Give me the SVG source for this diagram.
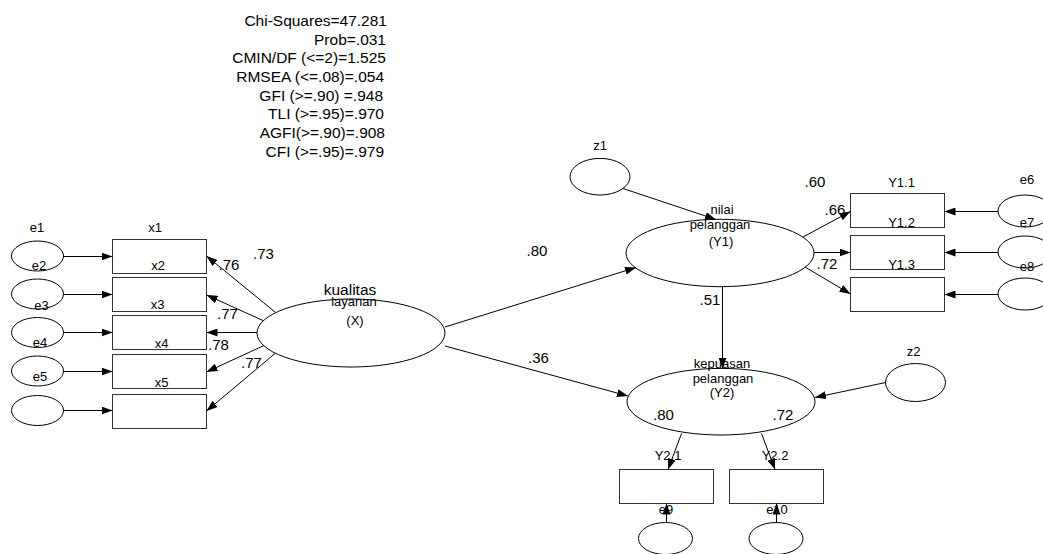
<svg xmlns="http://www.w3.org/2000/svg" width="1043" height="554" viewBox="0 0 1043 554">
<style>
  .sh { fill: none; stroke: #000; stroke-width: 1; }
  .bx { fill: none; stroke: #333; stroke-width: 1; }
  .ln { stroke: #000; stroke-width: 1; fill: none; marker-end: url(#ah); }
  text { font-family: "Liberation Sans", Arial, sans-serif; fill: #000; }
  .s { font-size: 13px; text-anchor: middle; }
  .n { font-size: 15px; text-anchor: middle; }
  .fit { font-size: 15.5px; text-anchor: end; }
  .big { font-size: 15.5px; text-anchor: middle; }
</style>
<defs>
  <marker id="ah" markerUnits="userSpaceOnUse" markerWidth="11" markerHeight="8" refX="11" refY="4" orient="auto">
    <path d="M0,0 L11,4 L0,8 z" fill="#000"/>
  </marker>
</defs>
<rect width="1043" height="554" fill="#fff"/>

<g id="fit">
  <text class="fit" x="387" y="26">Chi-Squares=47.281</text>
  <text class="fit" x="386" y="44.5">Prob=.031</text>
  <text class="fit" x="386" y="63.2">CMIN/DF (&lt;=2)=1.525</text>
  <text class="fit" x="384" y="81.9">RMSEA (&lt;=.08)=.054</text>
  <text class="fit" x="383" y="100.6">GFI (&gt;=.90) =.948</text>
  <text class="fit" x="384" y="119.3">TLI (&gt;=.95)=.970</text>
  <text class="fit" x="385" y="138">AGFI(&gt;=.90)=.908</text>
  <text class="fit" x="384" y="156.7">CFI (&gt;=.95)=.979</text>
</g>

<!-- left error terms -->
<g id="e1"><ellipse class="sh" cx="37.5" cy="256" rx="26" ry="15"/><text class="s" x="37" y="232">e1</text></g>
<g id="e2"><ellipse class="sh" cx="37.5" cy="294" rx="26" ry="15"/><text class="s" x="39" y="270">e2</text></g>
<g id="e3"><ellipse class="sh" cx="37.5" cy="332.5" rx="26" ry="15"/><text class="s" x="41.5" y="309.5">e3</text></g>
<g id="e4"><ellipse class="sh" cx="37.5" cy="371" rx="26" ry="15"/><text class="s" x="40" y="347">e4</text></g>
<g id="e5"><ellipse class="sh" cx="37.5" cy="410.5" rx="26" ry="15"/><text class="s" x="40" y="381">e5</text></g>

<!-- left indicators -->
<g id="x1"><rect class="bx" x="112.5" y="239.5" width="94" height="34"/><text class="s" x="155" y="232">x1</text></g>
<g id="x2"><rect class="bx" x="112.5" y="277.5" width="94" height="34"/><text class="s" x="158" y="270">x2</text></g>
<g id="x3"><rect class="bx" x="112.5" y="315.5" width="94" height="34"/><text class="s" x="157.5" y="309">x3</text></g>
<g id="x4"><rect class="bx" x="112.5" y="354.5" width="94" height="34"/><text class="s" x="161.5" y="348">x4</text></g>
<g id="x5"><rect class="bx" x="112.5" y="394.5" width="94" height="34"/><text class="s" x="161.5" y="387">x5</text></g>

<!-- latent X -->
<g id="kualitas">
  <ellipse class="sh" cx="351" cy="333" rx="94" ry="34"/>
  <text class="big" x="350" y="295">kualitas</text>
  <text class="s" x="354" y="306">layanan</text>
  <text class="s" x="355" y="325">(X)</text>
</g>

<!-- latent Y1 -->
<g id="nilai">
  <ellipse class="sh" cx="720" cy="253" rx="94" ry="33.7"/>
  <text class="s" x="722" y="214">nilai</text>
  <text class="s" x="720" y="229">pelanggan</text>
  <text class="s" x="721" y="246">(Y1)</text>
</g>

<!-- latent Y2 -->
<g id="kepuasan">
  <ellipse class="sh" cx="721" cy="401.7" rx="94" ry="33.3"/>
  <text class="s" x="722" y="368">kepuasan</text>
  <text class="s" x="723" y="383">pelanggan</text>
  <text class="s" x="722" y="397">(Y2)</text>
</g>

<g id="z1"><ellipse class="sh" cx="600" cy="176.7" rx="30" ry="18.3"/><text class="s" x="600" y="149.5">z1</text></g>
<g id="z2"><ellipse class="sh" cx="915.5" cy="382.5" rx="30" ry="19"/><text class="s" x="913.5" y="356">z2</text></g>

<!-- Y1 indicators -->
<g id="Y1.1"><rect class="bx" x="850.5" y="193.5" width="94" height="34"/><text class="s" x="901.5" y="187">Y1.1</text></g>
<g id="Y1.2"><rect class="bx" x="850.5" y="235.5" width="94" height="34"/><text class="s" x="901.5" y="227">Y1.2</text></g>
<g id="Y1.3"><rect class="bx" x="850.5" y="277.5" width="94" height="34"/><text class="s" x="901.5" y="268.5">Y1.3</text></g>

<g id="e6"><ellipse class="sh" cx="1025" cy="211" rx="27" ry="16"/><text class="s" x="1027" y="183.5">e6</text></g>
<g id="e7"><ellipse class="sh" cx="1025" cy="252" rx="27" ry="16"/><text class="s" x="1027" y="227">e7</text></g>
<g id="e8"><ellipse class="sh" cx="1025" cy="294" rx="27" ry="16"/><text class="s" x="1027" y="271">e8</text></g>

<!-- Y2 indicators -->
<g id="Y2.1"><rect class="bx" x="619.5" y="469.5" width="94" height="34"/><text class="s" x="668" y="459.5">Y2.1</text></g>
<g id="Y2.2"><rect class="bx" x="729.5" y="469.5" width="94" height="34"/><text class="s" x="775" y="459.5">Y2.2</text></g>

<g id="e9"><ellipse class="sh" cx="665.5" cy="538.5" rx="27" ry="16"/><text class="s" x="666" y="513.5">e9</text></g>
<g id="e10"><ellipse class="sh" cx="776" cy="538.5" rx="27" ry="16"/><text class="s" x="777" y="513.5">e10</text></g>

<g id="connectors">
  <line class="ln" x1="63.5" y1="256.5" x2="112.5" y2="256.5"/>
  <line class="ln" x1="63.5" y1="294.5" x2="112.5" y2="294.5"/>
  <line class="ln" x1="63.5" y1="332.5" x2="112.5" y2="332.5"/>
  <line class="ln" x1="63.5" y1="371.5" x2="112.5" y2="371.5"/>
  <line class="ln" x1="63.5" y1="410.5" x2="112.5" y2="410.5"/>

  <line class="ln" x1="275" y1="312" x2="206.5" y2="256"/>
  <line class="ln" x1="263" y1="320.5" x2="206.5" y2="295"/>
  <line class="ln" x1="257" y1="332.5" x2="206.5" y2="332.5"/>
  <line class="ln" x1="264" y1="345.5" x2="206.5" y2="372"/>
  <line class="ln" x1="275" y1="353.5" x2="206.5" y2="411"/>

  <line class="ln" x1="445" y1="327" x2="636" y2="267.5"/>
  <line class="ln" x1="445" y1="346" x2="628" y2="396"/>
  <line class="ln" x1="722.5" y1="286.7" x2="722.5" y2="368.5"/>
  <line class="ln" x1="623" y1="188.5" x2="716" y2="219.5"/>
  <line class="ln" x1="885.5" y1="382.5" x2="815" y2="397.5"/>

  <line class="ln" x1="803" y1="237" x2="850.5" y2="211.5"/>
  <line class="ln" x1="814" y1="252.5" x2="850.5" y2="252.5"/>
  <line class="ln" x1="805" y1="267" x2="850.5" y2="294"/>

  <line class="ln" x1="998" y1="211.5" x2="944.5" y2="211.5"/>
  <line class="ln" x1="998" y1="252.5" x2="944.5" y2="252.5"/>
  <line class="ln" x1="998" y1="294.5" x2="944.5" y2="294.5"/>

  <line class="ln" x1="681.5" y1="433.5" x2="668" y2="469.5"/>
  <line class="ln" x1="761.5" y1="433.5" x2="775" y2="469.5"/>

  <line class="ln" x1="666.5" y1="522.5" x2="666.5" y2="503.5"/>
  <line class="ln" x1="776.5" y1="522.5" x2="776.5" y2="503.5"/>

  <text class="n" x="263.5" y="258.5">.73</text>
  <text class="n" x="229" y="270">.76</text>
  <text class="n" x="227.5" y="318.5">.77</text>
  <text class="n" x="218.5" y="349.5">.78</text>
  <text class="n" x="251.5" y="367.5">.77</text>
  <text class="n" x="537" y="256">.80</text>
  <text class="n" x="538.5" y="362.5">.36</text>
  <text class="n" x="710" y="305">.51</text>
  <text class="n" x="815" y="187">.60</text>
  <text class="n" x="835" y="215">.66</text>
  <text class="n" x="827" y="269">.72</text>
  <text class="n" x="663.5" y="420">.80</text>
  <text class="n" x="783" y="420">.72</text>
</g>
</svg>
